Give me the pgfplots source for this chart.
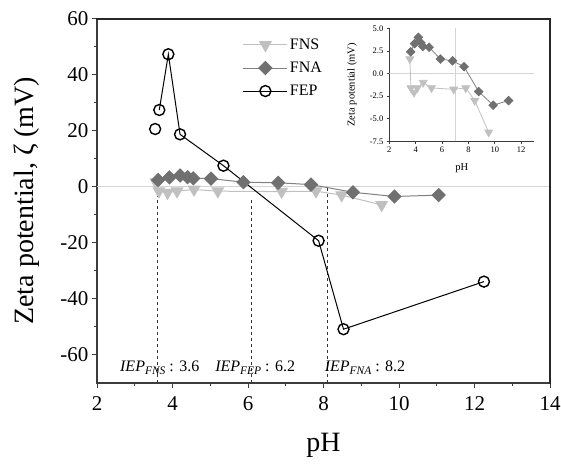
\documentclass[border=0pt]{standalone}
\usepackage{pgfplots}
\pgfplotsset{compat=1.18}
\usepackage{fontspec}
\setmainfont{Liberation Serif}
\definecolor{fnscol}{RGB}{192,192,192}
\definecolor{fnacol}{RGB}{112,112,112}
\definecolor{fnaline}{RGB}{128,128,128}
\definecolor{axcol}{RGB}{60,60,60}
\definecolor{zerocol}{RGB}{212,212,212}
\pgfplotstableread{
x y
3.56 1.6
3.64 -1.6
3.87 -2.1
4.12 -1.6
4.57 -1.0
5.20 -1.6
6.89 -1.75
7.80 -1.6
8.48 -3.0
9.54 -6.5
}\fns
\pgfplotstableread{
x y
3.62 2.4
3.92 3.3
4.20 4.0
4.40 3.4
4.55 3.0
5.02 2.9
5.88 1.6
6.80 1.4
7.67 0.75
8.78 -2.0
9.88 -3.5
11.05 -3.0
}\fna
\pgfplotstableread{
x y
3.54 20.6
3.60 nan
3.65 27.4
3.89 47.3
4.20 18.7
5.35 7.5
7.87 -19.3
8.53 -50.9
12.25 -33.9
}\fep
\begin{document}
\begin{tikzpicture}
\begin{axis}[
  at={(97pt,80.3pt)}, anchor=south west,
  width=453pt, height=364pt, scale only axis,
  xmin=2, xmax=14, ymin=-70, ymax=60,
  xtick={2,4,...,14}, ytick={-60,-40,...,60},
  minor x tick num=1, minor y tick num=1,
  tick pos=left, tick align=outside,
  major tick length=5pt, minor tick length=3pt,
  axis line style={axcol, line width=1.6pt},
  every tick/.style={axcol, line width=1pt},
  ticklabel style={font=\fontsize{21}{21}\selectfont},
  xticklabel style={yshift=-5pt},
  /pgf/number format/assume math mode=true,
  xlabel={pH}, ylabel={Zeta potential, ζ (mV)},
  label style={font=\fontsize{28}{28}\selectfont},
  xlabel style={at={(axis description cs:0.5,0)}, anchor=base, yshift=-69pt},
  ylabel style={at={(axis description cs:-0.1545,0.5)}, anchor=center, rotate=0},
  unbounded coords=jump,
  legend style={at={(0.315,0.956)}, anchor=north west, draw=none, fill=none,
    font=\fontsize{16}{16}\selectfont, row sep=7pt},
  legend cell align=left,
  legend image code/.code={\draw[mark repeat=2,mark phase=2,#1] plot coordinates {(0pt,0pt) (22pt,0pt) (44pt,0pt)};},
]
\addplot[zerocol, line width=1pt, forget plot] coordinates {(2,0) (14,0)};
\addplot[black!80, dashed, line width=0.8pt, forget plot] coordinates {(3.6,-70) (3.6,-2.3)};
\addplot[black!80, dashed, line width=0.8pt, forget plot] coordinates {(6.1,-70) (6.1,-3.6)};
\addplot[black!80, dashed, line width=0.8pt, forget plot] coordinates {(8.1,-70) (8.1,0)};
\addplot[fnscol, line width=1pt, mark=triangle*, mark size=6.5pt,
  mark options={rotate=180, fill=fnscol, draw=fnscol}] table {\fns};
\addlegendentry{FNS}
\addplot[fnaline, line width=1pt, mark=square*, mark size=4.6pt,
  mark options={rotate=45, fill=fnacol, draw=fnacol}] table {\fna};
\addlegendentry{FNA}
\addplot[black, line width=1pt, mark=o, mark size=5.5pt,
  mark options={fill=white, draw=black, line width=1.4pt}] table {\fep};
\addlegendentry{FEP}
\node[anchor=base west, font=\fontsize{16}{16}\selectfont] at (axis cs:2.52,-66)
  {\textit{IEP}\raisebox{-0.4ex}{\fontsize{11.5}{11.5}\selectfont\textit{FNS}} : 3.6};
\node[anchor=base west, font=\fontsize{16}{16}\selectfont] at (axis cs:5.04,-66)
  {\textit{IEP}\raisebox{-0.4ex}{\fontsize{11.5}{11.5}\selectfont\textit{FEP}} : 6.2};
\node[anchor=base west, font=\fontsize{16}{16}\selectfont] at (axis cs:7.94,-66)
  {\textit{IEP}\raisebox{-0.4ex}{\fontsize{11.5}{11.5}\selectfont\textit{FNA}} : 8.2};
\end{axis}
\begin{axis}[
  at={(389.3pt,321.7pt)}, anchor=south west,
  width=145pt, height=113pt, scale only axis,
  xmin=2, xmax=13, ymin=-7.5, ymax=5,
  xtick={2,4,...,12}, ytick={-7.5,-5,...,5},
  axis x line=bottom, axis y line=left,
  axis line style={-, axcol, line width=0.8pt},
  tick align=outside, major tick length=2.5pt,
  every tick/.style={axcol, line width=0.6pt},
  ticklabel style={font=\fontsize{8.5}{8.5}\selectfont},
  yticklabel style={/pgf/number format/.cd, fixed, fixed zerofill, precision=1},
  /pgf/number format/assume math mode=true,
  xlabel={pH}, ylabel={Zeta potential (mV)},
  label style={font=\fontsize{10.5}{10.5}\selectfont},
  xlabel style={at={(axis description cs:0.5,-0.236)}, anchor=center},
  ylabel style={at={(axis description cs:-0.257,0.5)}, anchor=center, rotate=0},
]
\addplot[zerocol, line width=0.8pt] coordinates {(2,0) (13,0)};
\addplot[zerocol, line width=0.8pt] coordinates {(7,-7.5) (7,5)};
\addplot[fnscol, line width=0.8pt, mark=triangle*, mark size=4.5pt,
  mark options={rotate=180, fill=fnscol, draw=fnscol}] table {\fns};
\addplot[fnaline, line width=0.8pt, mark=square*, mark size=3pt,
  mark options={rotate=45, fill=fnacol, draw=fnacol}] table {\fna};
\end{axis}
\draw[black!85, line width=2pt] (96pt,444.3pt) -- (550pt,444.3pt) -- (550pt,79.5pt);
\pgfresetboundingbox
\path (0pt,0pt) rectangle (561pt,463pt);
\end{tikzpicture}
\end{document}
